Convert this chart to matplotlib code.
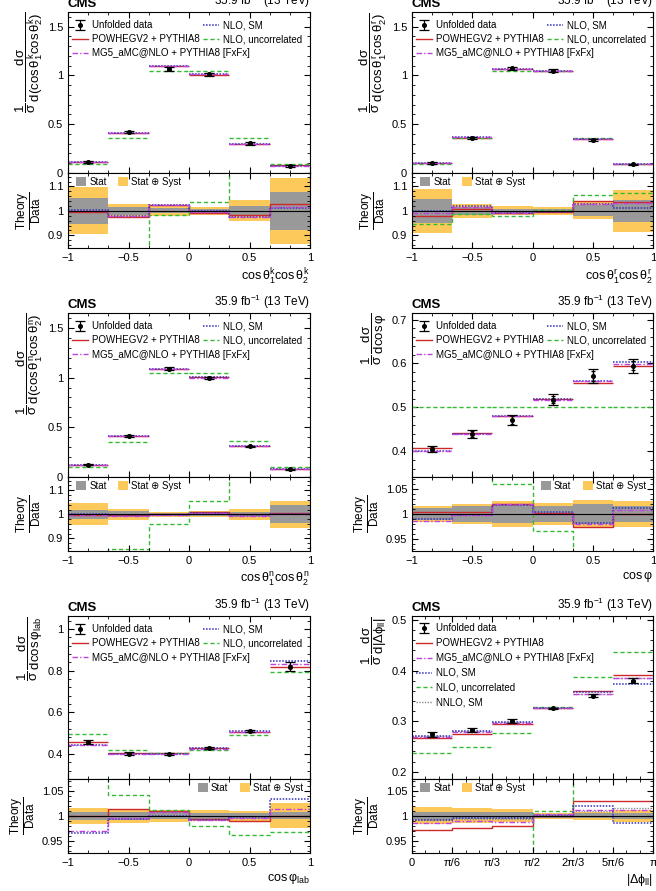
import numpy as np
import matplotlib
matplotlib.use('Agg')
import matplotlib.pyplot as plt
from matplotlib.ticker import MultipleLocator, AutoMinorLocator, FuncFormatter, FixedLocator
from matplotlib.patches import Patch
from matplotlib.lines import Line2D

plt.rcParams['font.family'] = ['Liberation Sans', 'DejaVu Sans']
plt.rcParams['mathtext.fontset'] = 'custom'
plt.rcParams['mathtext.rm'] = 'Liberation Sans'
plt.rcParams['mathtext.it'] = 'Liberation Sans'
plt.rcParams['mathtext.bf'] = 'Liberation Sans:bold'

# ---- binning ----
cos_edges = [-1, -2 / 3, -1 / 3, 0, 1 / 3, 2 / 3, 1]
dphi_edges = [0, np.pi / 6, np.pi / 3, np.pi / 2, 2 * np.pi / 3, 5 * np.pi / 6, np.pi]
dphi_ticklabels = ['0', 'π/6', 'π/3', 'π/2', '2π/3', '5π/6', 'π']

# ---- cos(theta1^k) cos(theta2^k) ----
kk_data = [0.112, 0.421, 1.069, 1.013, 0.305, 0.075]
kk_stat = [0.052, 0.016, 0.010, 0.008, 0.020, 0.077]   # relative
kk_tot = [0.096, 0.030, 0.020, 0.015, 0.043, 0.135]    # relative
kk_powheg = [0.1114, 0.410, 1.0957, 1.006, 0.300, 0.077]
kk_mg5 = [0.112, 0.4117, 1.0925, 1.010, 0.2977, 0.0761]
kk_nlo = [0.1123, 0.4126, 1.0925, 1.012, 0.297, 0.0759]
kk_unc = [0.092, 0.356, 1.049, 1.049, 0.356, 0.094]

# ---- cos(theta1^r) cos(theta2^r) ----
kr_data = [0.0995, 0.360, 1.071, 1.047, 0.336, 0.0876]
kr_stat = [0.049, 0.017, 0.008, 0.008, 0.022, 0.045]
kr_tot = [0.091, 0.030, 0.018, 0.015, 0.035, 0.085]
kr_powheg = [0.0974, 0.3629, 1.0624, 1.0418, 0.3498, 0.0908]
kr_mg5 = [0.0985, 0.3658, 1.0635, 1.0449, 0.3461, 0.0904]
kr_nlo = [0.0995, 0.3679, 1.0635, 1.0439, 0.3457, 0.0888]
kr_unc = [0.094, 0.356, 1.049, 1.049, 0.358, 0.094]

# ---- cos(theta1^n) cos(theta2^n) ----
nn_data = [0.125, 0.415, 1.091, 0.995, 0.310, 0.077]
nn_stat = [0.020, 0.012, 0.005, 0.006, 0.010, 0.037]
nn_tot = [0.046, 0.023, 0.010, 0.012, 0.022, 0.056]
nn_powheg = [0.1245, 0.4133, 1.091, 1.005, 0.310, 0.0775]
nn_mg5 = [0.1246, 0.4121, 1.0899, 1.000, 0.3078, 0.0772]
nn_nlo = [0.125, 0.4133, 1.0899, 1.002, 0.3088, 0.0772]
nn_unc = [0.101, 0.356, 1.049, 1.049, 0.360, 0.101]

# ---- cos(phi) ----
cp_data = [0.405, 0.440, 0.471, 0.5175, 0.571, 0.595]
cp_stat = [0.012, 0.016, 0.019, 0.017, 0.020, 0.017]
cp_tot = [0.017, 0.021, 0.026, 0.023, 0.028, 0.027]
cp_powheg = [0.407, 0.4422, 0.4809, 0.5185, 0.5556, 0.5944]
cp_mg5 = [0.3993, 0.4391, 0.4804, 0.5175, 0.559, 0.5998]
cp_nlo = [0.401, 0.4387, 0.4795, 0.5191, 0.5602, 0.6027]
cp_unc = [0.5, 0.5, 0.5, 0.5, 0.5, 0.5]

# ---- cos(phi_lab) ----
cl_data = [0.4576, 0.4016, 0.3984, 0.430, 0.510, 0.819]
cl_stat = [0.008, 0.0085, 0.0075, 0.006, 0.0065, 0.007]
cl_tot = [0.016, 0.014, 0.012, 0.011, 0.010, 0.025]
cl_powheg = [0.4576, 0.4068, 0.4024, 0.427, 0.5044, 0.819]
cl_mg5 = [0.4439, 0.3996, 0.4012, 0.4261, 0.5075, 0.8296]
cl_nlo = [0.4416, 0.3988, 0.398, 0.4266, 0.5085, 0.846]
cl_unc = [0.494, 0.4185, 0.4032, 0.421, 0.4906, 0.792]

# ---- |delta phi_ll| ----
dp_data = [0.2736, 0.2822, 0.3007, 0.325, 0.350, 0.380]
dp_stat = [0.008, 0.0075, 0.007, 0.004, 0.005, 0.006]
dp_tot = [0.017, 0.015, 0.013, 0.006, 0.008, 0.012]
dp_powheg = [0.2657, 0.2754, 0.2947, 0.325, 0.3605, 0.3914]
dp_mg5 = [0.2695, 0.2791, 0.2968, 0.3263, 0.3542, 0.3846]
dp_nlo = [0.2714, 0.2808, 0.2992, 0.325, 0.3567, 0.3743]
dp_unc = [0.2363, 0.2495, 0.2775, 0.328, 0.3866, 0.436]
dp_nnlo = [0.2714, 0.2805, 0.2986, 0.325, 0.3532, 0.3857]

STYLE = {
    'powheg': dict(color='#cc2a2a', ls='-', lw=1.0),
    'unc': dict(color='#33bb33', ls=(0, (3, 2)), lw=1.0),
    'nnlo': dict(color='#8c8c8c', ls=(0, (1, 1)), lw=1.0),
    'nlo': dict(color='#3030c0', ls=(0, (1, 1)), lw=1.1),
    'mg5': dict(color='#c040e0', ls=(0, (4, 1.5, 1, 1.5)), lw=1.0),
}
LABEL = {
    'powheg': 'POWHEGV2 + PYTHIA8',
    'mg5': 'MG5_aMC@NLO + PYTHIA8 [FxFx]',
    'nlo': 'NLO, SM',
    'unc': 'NLO, uncorrelated',
    'nnlo': 'NNLO, SM',
}
GREY = '#999999'
YELLOW = '#fdc95a'
LEGFS = 7.0

W, H = 656, 891
fig = plt.figure(figsize=(W / 100, H / 100), dpi=100)


def rect(x0, x1, ytop, ybot):
    return [x0 / W, 1 - ybot / H, (x1 - x0) / W, (ybot - ytop) / H]


def fmt(v, pos):
    s = '%g' % round(v, 6)
    return s.replace('-', '\u2212')


def style_axis(ax):
    ax.tick_params(which='both', direction='in', top=True, right=True, labelsize=8)
    ax.tick_params(which='major', length=4)
    ax.tick_params(which='minor', length=2)


def draw_panel(xs, rows, edges, data, stat, tot, theories, ylim, yticks, rlim, rticks,
               ylabel, xlabel, legend_mode, ratio_leg_right=False):
    x0, x1 = xs
    ytop, ysplit, ybot = rows
    ax = fig.add_axes(rect(x0, x1, ytop, ysplit))
    rax = fig.add_axes(rect(x0, x1, ysplit, ybot), sharex=ax)
    edges = np.asarray(edges)
    centers = 0.5 * (edges[:-1] + edges[1:])
    widths = np.diff(edges)
    data = np.asarray(data)
    stat = np.asarray(stat)
    tot = np.asarray(tot)

    # main panel
    for key, vals in theories:
        st = STYLE[key]
        ax.hlines(vals, edges[:-1], edges[1:], colors=st['color'], linestyles=[st['ls']],
                  linewidth=st['lw'])
    ax.errorbar(centers, data, yerr=data * stat, fmt='none', ecolor='k', elinewidth=0.9,
                capsize=1.5, capthick=0.9)
    eb = ax.errorbar(centers, data, yerr=data * tot, fmt='o', color='k', ms=2.6,
                     elinewidth=0.9, capsize=3.5, capthick=0.9)
    ax.set_ylim(*ylim)
    ax.yaxis.set_major_locator(FixedLocator(yticks))
    ax.yaxis.set_minor_locator(AutoMinorLocator(5))
    ax.yaxis.set_major_formatter(FuncFormatter(fmt))
    style_axis(ax)
    ax.tick_params(labelbottom=False)
    ax.set_ylabel(ylabel, loc='top', fontsize=9.5, labelpad=2)

    ax.annotate('CMS', xy=(0, 1), xycoords='axes fraction', xytext=(0, 1.5),
                textcoords='offset points', ha='left', va='bottom', fontsize=9.5,
                fontweight='bold')
    ax.annotate('35.9 fb$^{-1}$ (13 TeV)', xy=(1, 1), xycoords='axes fraction',
                xytext=(0, 1.5), textcoords='offset points', ha='right', va='bottom',
                fontsize=8.5)

    data_h = eb
    handles = {k: Line2D([], [], color=STYLE[k]['color'], ls=STYLE[k]['ls'],
                         lw=STYLE[k]['lw']) for k, _ in theories}
    leg_kw = dict(frameon=False, fontsize=LEGFS, handlelength=1.7, handletextpad=0.4,
                  borderpad=0, borderaxespad=0, labelspacing=0.42, loc='upper left')
    if legend_mode == 'two':
        hs = [data_h, handles['powheg'], handles['nlo'], handles['unc']]
        ls_ = ['Unfolded data', LABEL['powheg'], LABEL['nlo'], LABEL['unc']]
        leg1 = ax.legend(hs, ls_, ncol=2, columnspacing=0.3,
                         bbox_to_anchor=(0.015, 0.95), **leg_kw)
        ax.add_artist(leg1)
        step = 14.2 / (ysplit - ytop)
        ax.legend([handles['mg5']], [LABEL['mg5']],
                  bbox_to_anchor=(0.015, 0.95 - 2 * step), **leg_kw)
    else:
        order = ['powheg', 'mg5', 'nlo', 'unc', 'nnlo']
        hs = [data_h] + [handles[k] for k in order]
        ls_ = ['Unfolded data'] + [LABEL[k] for k in order]
        leg_kw['labelspacing'] = 0.5
        ax.legend(hs, ls_, bbox_to_anchor=(0.015, 0.955), **leg_kw)

    # ratio panel
    rax.bar(edges[:-1], 2 * tot, bottom=1 - tot, width=widths, align='edge',
            color=YELLOW, lw=0)
    rax.bar(edges[:-1], 2 * stat, bottom=1 - stat, width=widths, align='edge',
            color=GREY, lw=0)
    rax.axhline(1, color='k', lw=0.8)
    for key, vals in theories:
        st = STYLE[key]
        rax.stairs(np.asarray(vals) / data, edges, baseline=None, color=st['color'],
                   ls=st['ls'], lw=st['lw'])
    rax.set_ylim(*rlim)
    rax.yaxis.set_major_locator(FixedLocator(rticks))
    rax.yaxis.set_major_formatter(FuncFormatter(fmt))
    rax.yaxis.set_minor_locator(AutoMinorLocator(5))
    style_axis(rax)
    rax.set_xlim(edges[0], edges[-1])
    rax.set_ylabel(r'$\dfrac{\mathrm{Theory}}{\mathrm{Data}}$', fontsize=8.5, labelpad=3)
    rax.set_xlabel(xlabel, loc='right', fontsize=9, labelpad=3)
    rh = [Patch(facecolor=GREY, lw=0), Patch(facecolor=YELLOW, lw=0)]
    rleg = dict(ncol=2, frameon=False, fontsize=LEGFS, handlelength=1.0,
                handleheight=1.0, handletextpad=0.3, columnspacing=1.2, borderpad=0,
                borderaxespad=0)
    if ratio_leg_right:
        rax.legend(rh, ['Stat', 'Stat \u2295 Syst'], loc='upper right',
                   bbox_to_anchor=(0.97, 0.95), **rleg)
    else:
        rax.legend(rh, ['Stat', 'Stat \u2295 Syst'], loc='upper left',
                   bbox_to_anchor=(0.035, 0.95), **rleg)
    return ax, rax


LEFT = (68, 310)
RIGHT = (412, 653)
ROW1 = (12, 173, 248)
ROW2 = (313, 477, 551)
ROW3 = (616, 779, 853)


def th(p, u, n, m):
    return [('powheg', p), ('unc', u), ('nlo', n), ('mg5', m)]


for xs, rows, d, s, t, thr, ylab, xlab in [
    (LEFT, ROW1, kk_data, kk_stat, kk_tot, th(kk_powheg, kk_unc, kk_nlo, kk_mg5),
     r'$\dfrac{1}{\sigma}\,\dfrac{d\sigma}{d(\cos\theta_1^k\cos\theta_2^k)}$',
     r'$\cos\theta_1^k\cos\theta_2^k$'),
    (RIGHT, ROW1, kr_data, kr_stat, kr_tot, th(kr_powheg, kr_unc, kr_nlo, kr_mg5),
     r'$\dfrac{1}{\sigma}\,\dfrac{d\sigma}{d(\cos\theta_1^r\cos\theta_2^r)}$',
     r'$\cos\theta_1^r\cos\theta_2^r$'),
    (LEFT, ROW2, nn_data, nn_stat, nn_tot, th(nn_powheg, nn_unc, nn_nlo, nn_mg5),
     r'$\dfrac{1}{\sigma}\,\dfrac{d\sigma}{d(\cos\theta_1^n\cos\theta_2^n)}$',
     r'$\cos\theta_1^n\cos\theta_2^n$'),
]:
    ax, rax = draw_panel(xs, rows, cos_edges, d, s, t, thr, (0, 1.65), [0, 0.5, 1, 1.5],
                         (0.848, 1.155), [0.9, 1, 1.1], ylab, xlab, 'two')
    rax.xaxis.set_major_locator(FixedLocator([-1, -0.5, 0, 0.5, 1]))
    rax.xaxis.set_minor_locator(MultipleLocator(1 / 6))
    rax.xaxis.set_major_formatter(FuncFormatter(fmt))

ax, rax = draw_panel(RIGHT, ROW2, cos_edges, cp_data, cp_stat, cp_tot,
                     th(cp_powheg, cp_unc, cp_nlo, cp_mg5), (0.341, 0.715),
                     [0.4, 0.5, 0.6, 0.7], (0.925, 1.075), [0.95, 1, 1.05],
                     r'$\dfrac{1}{\sigma}\,\dfrac{d\sigma}{d\cos\varphi}$', r'$\cos\varphi$',
                     'two', ratio_leg_right=True)
rax.xaxis.set_major_locator(FixedLocator([-1, -0.5, 0, 0.5, 1]))
rax.xaxis.set_minor_locator(MultipleLocator(1 / 6))
rax.xaxis.set_major_formatter(FuncFormatter(fmt))

ax, rax = draw_panel(LEFT, ROW3, cos_edges, cl_data, cl_stat, cl_tot,
                     th(cl_powheg, cl_unc, cl_nlo, cl_mg5), (0.28, 1.062),
                     [0.4, 0.6, 0.8, 1.0], (0.925, 1.074), [0.95, 1, 1.05],
                     r'$\dfrac{1}{\sigma}\,\dfrac{d\sigma}{d\cos\varphi_{\mathrm{lab}}}$',
                     r'$\cos\varphi_{\mathrm{lab}}$', 'two', ratio_leg_right=True)
rax.xaxis.set_major_locator(FixedLocator([-1, -0.5, 0, 0.5, 1]))
rax.xaxis.set_minor_locator(MultipleLocator(1 / 6))
rax.xaxis.set_major_formatter(FuncFormatter(fmt))

dp_th = [('powheg', dp_powheg), ('unc', dp_unc), ('nnlo', dp_nnlo), ('nlo', dp_nlo),
         ('mg5', dp_mg5)]
ax, rax = draw_panel(RIGHT, ROW3, dphi_edges, dp_data, dp_stat, dp_tot, dp_th,
                     (0.1855, 0.508), [0.2, 0.3, 0.4, 0.5], (0.925, 1.074),
                     [0.95, 1, 1.05],
                     r'$\dfrac{1}{\sigma}\,\dfrac{d\sigma}{d|\Delta\phi_{\mathrm{ll}}|}$',
                     r'$|\Delta\phi_{\mathrm{ll}}|$', 'one')
rax.xaxis.set_major_locator(FixedLocator(dphi_edges))
rax.xaxis.set_minor_locator(MultipleLocator(np.pi / 18))
rax.set_xticklabels(dphi_ticklabels)

fig.savefig('out.png', dpi=100)
